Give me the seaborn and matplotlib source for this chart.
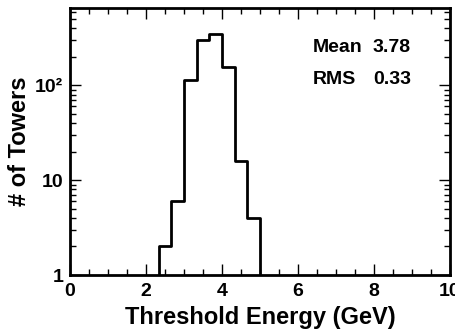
import numpy as np
import pandas as pd
import matplotlib
matplotlib.use('Agg')
import matplotlib.pyplot as plt
from matplotlib.ticker import MultipleLocator, FixedLocator, LogLocator, NullFormatter
import seaborn as sns

# histogram data: 30 bins from 0 to 10 GeV
bin_lo = 0.0
bin_hi = 10.0
n_bins = 30
counts = [0, 0, 0, 0, 0, 0, 0, 2, 6, 115,
          305, 350, 158, 16, 4, 0, 0, 0, 0, 0,
          0, 0, 0, 0, 0, 0, 0, 0, 0, 0]
stats_labels = ['Mean', 'RMS']
stats_values = ['3.78', '0.33']
y_ticks = [1, 10, 100]
y_ticklabels = ['1', '10', '10²']

edges = np.linspace(bin_lo, bin_hi, n_bins + 1)
df = pd.DataFrame({'energy': (edges[:-1] + edges[1:]) / 2, 'count': counts})

sns.set_style('ticks', {'axes.edgecolor': 'black', 'text.color': 'black',
                        'xtick.color': 'black', 'ytick.color': 'black',
                        'axes.labelcolor': 'black'})
plt.rcParams['font.family'] = ['Liberation Sans', 'DejaVu Sans']
plt.rcParams['font.weight'] = 'bold'

fig = plt.figure(figsize=(4.55, 3.35), dpi=100)
ax = fig.add_axes([0.154, 0.179, 0.835, 0.796])

sns.histplot(data=df, x='energy', weights='count', bins=edges.tolist(),
             element='step', fill=False, color='black', linewidth=2, ax=ax)
ax.set_yscale('log')
ax.set_xlim(0, 10)
ax.set_ylim(1, 650)

for s in ax.spines.values():
    s.set_linewidth(2)
    s.set_visible(True)
    s.set_color('black')

ax.xaxis.set_major_locator(MultipleLocator(2))
ax.xaxis.set_minor_locator(MultipleLocator(0.5))
ax.yaxis.set_major_locator(FixedLocator(y_ticks))
ax.set_yticklabels(y_ticklabels)
ax.yaxis.set_minor_locator(LogLocator(base=10, subs=np.arange(2, 10)))
ax.yaxis.set_minor_formatter(NullFormatter())
ax.tick_params(which='both', direction='in', top=True, right=True,
               labelsize=14, width=1, colors='black')
ax.tick_params(which='major', length=8)
ax.tick_params(which='minor', length=4)
ax.tick_params(axis='x', pad=6)
ax.tick_params(axis='y', pad=5)

ax.set_xlabel('Threshold Energy (GeV)', fontsize=17, fontweight='bold',
              labelpad=4, color='black')
ax.set_ylabel('# of Towers', fontsize=17, fontweight='bold',
              labelpad=3, color='black')

for i, (lab, val) in enumerate(zip(stats_labels, stats_values)):
    y = 0.855 - i * 0.12
    ax.text(0.639, y, lab, transform=ax.transAxes, fontsize=14,
            fontweight='bold', va='center', ha='left', color='black')
    ax.text(0.797, y, val, transform=ax.transAxes, fontsize=14,
            fontweight='bold', va='center', ha='left', color='black')

fig.savefig('out.png', dpi=100)
